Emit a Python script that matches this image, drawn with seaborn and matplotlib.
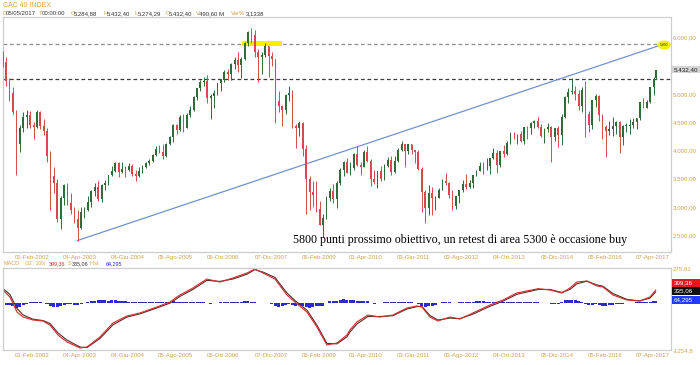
import matplotlib
matplotlib.use('Agg')
import matplotlib.pyplot as plt
import matplotlib.dates as mdates
from matplotlib.patches import Rectangle, Ellipse
import numpy as np
import pandas as pd
import seaborn as sns

# CAC 40 index, monthly candles (May 2001 .. first week of May 2017)
price_open = [
    5650, 5560, 5225, 5020, 4690, 4120, 4400, 4600,
    4625, 4450, 4410, 4688, 4430, 4340, 3900, 3550, 3420, 2777, 3150, 3380,
    3064, 2940, 2790, 2620, 2900, 2950, 3085, 3280, 3350, 3135, 3390, 3430,
    3558, 3640, 3770, 3625, 3675, 3660, 3730, 3590, 3550, 3640, 3705, 3780,
    3821, 3913, 4027, 3970, 3908, 4120, 4230, 4450, 4360, 4600, 4400, 4630,
    4715, 4950, 5100, 5220, 5230, 4930, 4965, 5010, 5200, 5250, 5400, 5350,
    5541, 5610, 5520, 5630, 5900, 6100, 6050, 5750, 5650, 5700, 5850, 5670,
    5614, 4870, 4790, 4710, 4990, 5015, 4430, 4390, 4480, 4030, 3490, 3260,
    3218, 2960, 2680, 2800, 3160, 3280, 3140, 3430, 3650, 3800, 3600, 3680,
    3936, 3740, 3710, 3975, 3815, 3500, 3440, 3640, 3490, 3715, 3830, 3610,
    3805, 4005, 4110, 3990, 4110, 4000, 3980, 3670, 3260, 2980, 3240, 3150,
    3160, 3300, 3450, 3420, 3210, 3020, 3200, 3290, 3410, 3355, 3430, 3560,
    3640, 3730, 3720, 3730, 3860, 3950, 3740, 3990, 3930, 4140, 4300, 4290,
    4296, 4165, 4410, 4390, 4490, 4520, 4420, 4250, 4380, 4420, 4230, 4390,
    4272, 4600, 4950, 5030, 5050, 5000, 4790, 5080, 4650, 4450, 4900, 4960,
    4637, 4420, 4350, 4385, 4430, 4500, 4240, 4440, 4440, 4450, 4510, 4580,
    4860, 4750, 4860, 5120, 5285,
]
price_high = [
    5760, 5650, 5280, 5120, 4720, 4450, 4680, 4720,
    4700, 4500, 4720, 4700, 4560, 4400, 3990, 3700, 3500, 3200, 3400, 3420,
    3250, 3000, 2950, 3000, 3000, 3200, 3300, 3420, 3450, 3400, 3470, 3570,
    3730, 3790, 3800, 3790, 3720, 3780, 3760, 3650, 3700, 3750, 3800, 3840,
    3930, 4070, 4100, 4110, 4130, 4260, 4460, 4470, 4620, 4650, 4660, 4780,
    4960, 5100, 5250, 5300, 5330, 5000, 5080, 5200, 5260, 5420, 5450, 5550,
    5650, 5750, 5650, 5920, 6110, 6170, 6130, 5800, 5750, 5900, 5850, 5750,
    5620, 5050, 4800, 5000, 5140, 5070, 4470, 4520, 4500, 4100, 3550, 3450,
    3450, 3100, 2880, 3200, 3340, 3400, 3450, 3680, 3820, 3870, 3800, 3950,
    4070, 3800, 4000, 4070, 3850, 3650, 3640, 3720, 3760, 3880, 3900, 3900,
    4050, 4170, 4120, 4110, 4120, 4010, 4000, 3700, 3300, 3380, 3350, 3200,
    3330, 3500, 3600, 3440, 3300, 3200, 3300, 3470, 3580, 3470, 3570, 3650,
    3790, 3800, 3860, 3870, 4050, 4000, 3990, 4100, 4170, 4330, 4330, 4300,
    4350, 4420, 4440, 4500, 4540, 4600, 4460, 4390, 4490, 4430, 4400, 4440,
    4640, 4960, 5100, 5280, 5140, 5080, 5120, 5230, 4700, 4900, 5000, 4990,
    4640, 4450, 4520, 4600, 4530, 4530, 4450, 4480, 4550, 4580, 4580, 4860,
    4930, 4900, 5120, 5300, 5432,
]
price_low = [
    5480, 5140, 4880, 4640, 3560, 3980, 4320, 4400,
    4390, 4210, 4400, 4380, 4270, 3800, 2950, 3250, 2730, 2612, 3030, 3030,
    2870, 2720, 2401, 2600, 2800, 2930, 2990, 3200, 3100, 3080, 3300, 3390,
    3550, 3620, 3520, 3600, 3530, 3630, 3550, 3450, 3530, 3600, 3690, 3750,
    3800, 3900, 3960, 3850, 3880, 4100, 4150, 4300, 4350, 4320, 4390, 4600,
    4700, 4900, 5050, 5150, 4850, 4560, 4750, 4980, 5060, 5220, 5250, 5250,
    5450, 5400, 5280, 5600, 5850, 5900, 5650, 5220, 5350, 5650, 5300, 5500,
    4480, 4680, 4430, 4650, 4880, 4400, 4040, 4250, 3900, 2880, 2950, 3000,
    2900, 2680, 2465, 2780, 3100, 3060, 2970, 3380, 3550, 3600, 3570, 3650,
    3720, 3560, 3700, 3800, 3360, 3400, 3330, 3460, 3480, 3700, 3570, 3600,
    3800, 3990, 3700, 3930, 3930, 3780, 3660, 2900, 2720, 2860, 2860, 2940,
    3150, 3290, 3380, 3150, 2950, 2960, 3060, 3260, 3320, 3330, 3330, 3550,
    3630, 3580, 3650, 3580, 3850, 3600, 3700, 3890, 3910, 4110, 4210, 4110,
    4150, 4110, 4200, 4300, 4400, 4400, 4240, 4140, 4320, 3790, 4170, 4060,
    4100, 4580, 4850, 5000, 4900, 4720, 4680, 4230, 4330, 4380, 4770, 4520,
    4200, 3890, 4280, 4250, 4300, 3960, 4100, 4330, 4300, 4400, 4380, 4540,
    4750, 4760, 4850, 4980, 5274,
]
price_close = [
    5560, 5225, 5020, 4690, 4120, 4400, 4600, 4625,
    4450, 4410, 4688, 4430, 4340, 3900, 3550, 3420, 2777, 3150, 3380, 3064,
    2940, 2790, 2620, 2900, 2950, 3085, 3280, 3350, 3135, 3390, 3430, 3558,
    3640, 3770, 3625, 3675, 3660, 3730, 3590, 3550, 3640, 3705, 3780, 3821,
    3913, 4027, 3970, 3908, 4120, 4230, 4450, 4360, 4600, 4400, 4630, 4715,
    4950, 5100, 5220, 5230, 4930, 4965, 5010, 5200, 5250, 5400, 5350, 5541,
    5610, 5520, 5630, 5900, 6100, 6050, 5750, 5650, 5700, 5850, 5670, 5614,
    4870, 4790, 4710, 4990, 5015, 4430, 4390, 4480, 4030, 3490, 3260, 3218,
    2960, 2680, 2800, 3160, 3280, 3140, 3430, 3650, 3800, 3600, 3680, 3936,
    3740, 3710, 3975, 3815, 3500, 3440, 3640, 3490, 3715, 3830, 3610, 3805,
    4005, 4110, 3990, 4110, 4000, 3980, 3670, 3260, 2980, 3240, 3150, 3160,
    3300, 3450, 3420, 3210, 3020, 3200, 3290, 3410, 3355, 3430, 3560, 3640,
    3730, 3720, 3730, 3860, 3950, 3740, 3990, 3930, 4140, 4300, 4290, 4296,
    4165, 4410, 4390, 4490, 4520, 4420, 4250, 4380, 4420, 4230, 4390, 4272,
    4600, 4950, 5030, 5050, 5000, 4790, 5080, 4650, 4450, 4900, 4960, 4637,
    4420, 4350, 4385, 4430, 4500, 4240, 4440, 4440, 4450, 4510, 4580, 4860,
    4750, 4860, 5120, 5267, 5432.4,
]

# MACD (32, 200) and signal, read at turning points of the lower panel
macd_dates = [
    '2001-05-18', '2001-07-19', '2001-09-20', '2001-11-13', '2002-02-10', '2002-05-10',
    '2002-07-12', '2002-09-21', '2002-12-11', '2003-04-06', '2003-06-07', '2003-10-01',
    '2004-01-25', '2004-05-29', '2004-09-22', '2005-02-21', '2005-06-17', '2005-09-14',
    '2006-01-08', '2006-05-13', '2006-09-06', '2007-01-01', '2007-05-06', '2007-07-16',
    '2007-09-26', '2008-01-11', '2008-04-27', '2008-07-07', '2008-10-23', '2009-01-20',
    '2009-04-19', '2009-07-18', '2009-10-15', '2009-11-11', '2010-01-12', '2010-04-20',
    '2010-08-06', '2010-11-30', '2011-04-04', '2011-07-02', '2011-08-16', '2011-10-26',
    '2012-01-06', '2012-04-22', '2012-07-20', '2012-11-14', '2013-04-14', '2013-08-08',
    '2013-12-11', '2014-06-20', '2014-10-02', '2015-01-17', '2015-03-30', '2015-05-31',
    '2015-08-29', '2015-11-26', '2016-01-19', '2016-04-17', '2016-08-20', '2016-12-14',
    '2017-03-14', '2017-05-05',
]
macd_line = [
    -135, -266, -546, -639, -695, -714, -788, -975, -1105, -1217, -1199, -1012,
    -751, -620, -564, -452, -359, -228, -98, 70, 14, 89, 182, 257,
    182, 70, -228, -359, -546, -825, -1161, -1124, -975, -881, -732, -602,
    -639, -602, -471, -433, -452, -639, -714, -639, -676, -564, -415, -322,
    -191, -110, -135, -191, -98, 14, 33, -60, -79, -228, -322, -340,
    -266, -135,
]
signal_line = [
    -110, -220, -480, -600, -680, -705, -760, -935, -1070, -1200, -1210, -1040,
    -785, -640, -580, -470, -380, -255, -125, 45, 25, 70, 160, 245,
    200, 100, -190, -330, -510, -790, -1130, -1140, -1010, -920, -770, -630,
    -630, -615, -490, -445, -440, -610, -695, -660, -670, -585, -440, -345,
    -215, -125, -125, -180, -125, -20, 30, -40, -65, -200, -310, -340,
    -285, -170,
]
# histogram, one value per month (same months as the candles)
macd_hist = [
    -20, -25, -20, -30, -50, -45, -25, -10,
    5, 8, 10, 5, -5, -15, -35, -40, -40, -35, -20, -15,
    -15, -20, -20, -10, 0, 10, 20, 22, 25, 25, 25, 22,
    25, 25, 20, 15, 15, 10, 5, 5, 8, 10, 12, 12,
    10, 10, 8, 5, 10, 12, 15, 12, 12, 10, 10, 12,
    12, 10, 10, 5, -5, -10, -5, 0, 5, 8, 10, 10,
    8, 5, 10, 15, 18, 12, 5, -5, -5, 0, -5, -10,
    -35, -40, -35, -20, -15, -25, -30, -25, -30, -45, -50, -45,
    -35, -35, -30, 0, 15, 20, 20, 30, 35, 25, 25, 25,
    20, 15, 15, 15, -5, -10, -5, 0, 5, 8, 5, 8,
    10, 12, 8, 8, 5, 0, -10, -35, -40, -35, -30, -20,
    0, 10, 12, 5, -5, -5, 5, 10, 12, 12, 12, 15,
    15, 15, 12, 10, 12, 5, 5, 8, 12, 12, 10, 8,
    5, 8, 8, 10, 10, 5, -5, -5, -5, -15, -10, -10,
    10, 25, 30, 30, 25, 15, 10, -15, -25, -20, -15, -25,
    -30, -30, -25, -20, -15, -15, -10, -5, -5, 0, 5, 10,
    10, 10, 12, 15, 15,
]

levels = [5890, 5270]                      # dashed resistance / support
trend_dates = ['2003-03-12', '2017-07-20']
trend_values = [2400, 5890]

tick_dates = ['2002-02-01', '2003-04-04', '2004-06-04', '2005-08-05', '2006-10-06',
              '2007-12-07', '2009-02-06', '2010-04-01', '2011-06-03', '2012-08-03',
              '2013-10-04', '2014-12-05', '2016-02-05', '2017-04-07']
tick_labels = ['01-Feb-2002', '04-Apr-2003', '04-Giu-2004', '05-Ago-2005', '06-Ott-2006',
               '07-Dic-2007', '06-Feb-2009', '01-Apr-2010', '03-Giu-2011', '03-Ago-2012',
               '04-Ott-2013', '05-Dic-2014', '05-Feb-2016', '07-Apr-2017']
# 5.500,00 sits under the last-price tag in the reference
price_ticks = [2500, 3000, 3500, 4000, 4500, 5000, 6000]

GOLD = '#d0a448'
UP = '#2f6a3a'
DOWN = '#d9484c'


def it_num(v, dec=2):
    s = f"{v:,.{dec}f}"
    return s.replace(',', 'X').replace('.', ',').replace('X', '.')


sns.set_theme(style='white')
plt.rcParams['font.family'] = ['Liberation Sans', 'DejaVu Sans']

fig = plt.figure(figsize=(7, 3.65), dpi=100)
fig.patch.set_facecolor('white')
ax = fig.add_axes([3/700, 113/365, 668/700, 235/365])
ax2 = fig.add_axes([3/700, 15/365, 668/700, 82/365], sharex=ax)

# bar positions: middle of each month, last bar is the week of 5 May 2017
months = pd.date_range('2001-05-01', '2017-05-01', freq='MS')
bar_dates = (months + pd.Timedelta(days=14))[:-1].append(pd.DatetimeIndex(['2017-05-05']))
x = mdates.date2num(bar_dates)

o = np.array(price_open, float)
h = np.array(price_high, float)
l = np.array(price_low, float)
c = np.array(price_close, float)
cols = np.where(c >= o, UP, DOWN)

# levels and trend line
for lev, col in zip(levels, ['#8c8c8c', '#3c3c3c']):
    ax.axhline(lev, color=col, lw=0.9, ls=(0, (3, 2.2)), zorder=1)
ax.plot(mdates.date2num(pd.to_datetime(trend_dates)), trend_values,
        color='#6f93cc', lw=0.9, zorder=2)

# candles
ax.vlines(x, l, h, colors=cols, lw=0.7, zorder=3)
ax.bar(x, np.maximum(np.abs(c - o), 10), bottom=np.minimum(o, c), width=15,
       color=cols, lw=0, zorder=4)

# yellow highlights
ax.add_patch(Rectangle((mdates.date2num(pd.Timestamp('2007-03-20')), levels[0] - 45),
                       360, 90, color='#f4f000', lw=0, zorder=2))
ax.add_patch(Ellipse((mdates.date2num(pd.Timestamp(trend_dates[1])), levels[0] - 20),
                     115, 165, color='#f4f000', lw=0, zorder=5))
ax.text(mdates.date2num(pd.Timestamp(trend_dates[1])), levels[0] - 20, '5.800',
        fontsize=2.4, color='#333333', ha='center', va='center', zorder=6)

ax.set_xlim(mdates.date2num(pd.Timestamp('2001-05-18')),
            mdates.date2num(pd.Timestamp('2017-09-18')))
ax.set_ylim(2198, 6367)
ax.yaxis.tick_right()
ax.set_yticks(price_ticks)
ax.set_yticklabels([it_num(v) for v in price_ticks])
ax.set_xticks(mdates.date2num(pd.to_datetime(tick_dates)))
ax.set_xticklabels(tick_labels)
for a in (ax, ax2):
    a.tick_params(axis='both', length=0, labelsize=4.4, labelcolor=GOLD, pad=1.5)
    a.tick_params(axis='x', pad=2.2)
    for sp in a.spines.values():
        sp.set_color('#cdcdcd')
        sp.set_linewidth(0.9)
    a.grid(False)

# MACD panel
ax3 = ax2.twinx()
ax3.bar(x, macd_hist, width=27, color='#2a2ad0', lw=0)
ax3.set_ylim(-473, 347)
ax3.set_yticks([])
for sp in ax3.spines.values():
    sp.set_visible(False)
ax2.set_zorder(ax3.get_zorder() + 1)
ax2.patch.set_visible(False)

md = mdates.date2num(pd.to_datetime(macd_dates))
sns.lineplot(x=md, y=signal_line, ax=ax2, color='#5a2a2a', lw=0.8, legend=False)
sns.lineplot(x=md, y=macd_line, ax=ax2, color='#d42a2a', lw=0.8, legend=False)
ax2.set_ylim(-1254.8, 275.61)
ax2.yaxis.tick_right()
ax2.set_yticks([-1254.8, 275.61])
ax2.set_yticklabels(['-1254,8', '275,61'])
ax2.set_xlabel('')
ax2.set_ylabel('')


# header
def ftxt(xp, yp, s, col, size=4.3, **kw):
    fig.text(xp / 700, 1 - yp / 365, s, color=col, fontsize=size, va='center', ha='left', **kw)


ftxt(3, 5.5, 'CAC 40 INDEX', '#e2a236', size=5)
header = [(2.5, 'D', '05/05/2017'), (38.5, 'T', '00:00:00'), (70.5, 'O', it_num(5284.88)),
          (103.5, 'H', it_num(5432.40)), (134.5, 'L', it_num(5274.29)),
          (165.5, 'C', it_num(5432.40)), (195.5, 'V', '490,60 M'), (231, 'Var%', '3,1338')]
for xp, key, val in header:
    ftxt(xp, 13.5, key, GOLD)
    ftxt(xp + (3.5 if len(key) == 1 else 14.5), 13.5, val, '#333333')

row = [(3, 'MACD', GOLD, 3.9), (25, '(32 , 200)', GOLD, 3.4), (48.5, '399,36', '#d42a2a', 3.9),
       (67.5, 'S', GOLD, 3.9), (72, '335,06', '#333333', 3.9), (89.5, 'Hist', GOLD, 3.9),
       (105.5, '64,295', '#2a2ad0', 3.9)]
for xp, s, col, sz in row:
    ftxt(xp, 263.5, s, col, size=sz)


# value tags at the right edge
def tag(yp, s, fc, tc):
    fig.patches.append(Rectangle((671.5 / 700, 1 - (yp + 3.6) / 365), 28.5 / 700, 7.2 / 365,
                                 transform=fig.transFigure, color=fc, lw=0, zorder=10))
    fig.text(674 / 700, 1 - yp / 365, s, color=tc, fontsize=4.5, va='center', ha='left', zorder=11)


tag(69.5, it_num(price_close[-1]), '#d4d4d4', '#222222')
tag(283, '399,36', '#e8141e', 'white')
tag(291, '335,06', '#111111', 'white')
tag(300, '64,295', '#1f3cff', 'white')

fig.text(293 / 700, 1 - 240.5 / 365,
         '5800 punti prossimo obiettivo, un retest di area 5300 è occasione buy',
         family=['Liberation Serif', 'DejaVu Serif'], fontsize=8.65, color='black',
         va='center', ha='left')

fig.savefig('out.png', dpi=100)
